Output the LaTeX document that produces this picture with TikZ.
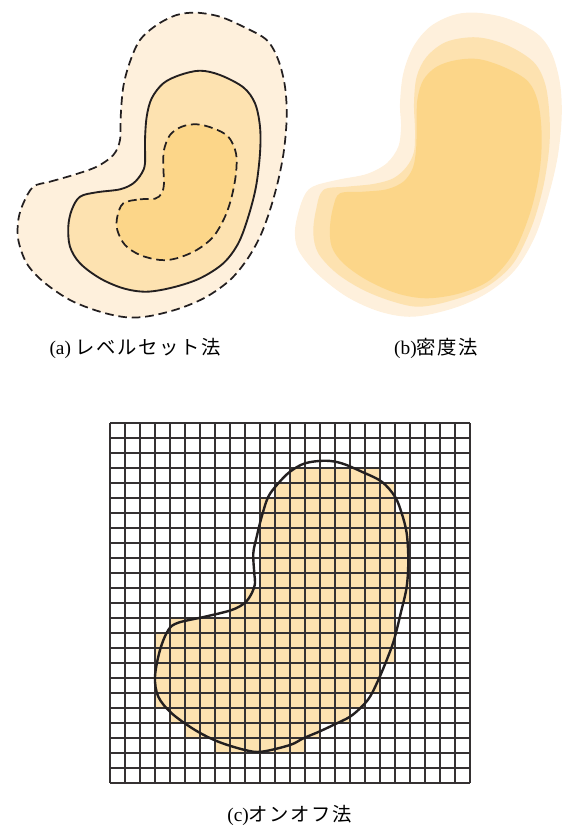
\documentclass[tikz,border=0pt]{standalone}
\usepackage{fontspec}
\setmainfont{Liberation Serif}
\newfontfamily\jp[LetterSpace=8]{Noto Sans CJK JP}
\definecolor{cOut}{HTML}{FEF0DC}
\definecolor{cMid}{HTML}{FDE2B0}
\definecolor{cIn}{HTML}{FCD689}
\definecolor{ink}{HTML}{231F20}
\tikzset{
  contourdash/.style={draw=ink,line width=1.3pt,dash pattern=on 6.5pt off 3.6pt},
  contoursolid/.style={draw=ink,line width=1.4pt},
  gridline/.style={draw=ink!92,line width=1.5pt},
  shapeline/.style={draw=ink,line width=1.8pt},
  lab/.style={inner sep=0pt,font=\fontsize{14.5}{17}\selectfont},
}
\begin{document}
\begin{tikzpicture}[x=0.75pt,y=-0.75pt]
\useasboundingbox (0,0) rectangle (564,829);

% ---------- (a) level set ----------
\path[fill=cOut,contourdash] plot[smooth cycle,tension=0.55] coordinates {
(33.3,186.7)(50,181.7)(73.3,175)(96.7,166.7)(113.3,155)(120,140)(120.7,116.7)(123.3,86.7)(130,61.7)(140,40)(156.7,25)(176.7,15)(196.7,12.7)(220,16.7)(243.3,26.7)(266.7,40)(278.3,60)(285,86.7)(286.7,116.7)(284,150)(278.3,180)(270,210)(260,236.7)(246.7,260)(230,280)(206.7,296.7)(180,308.3)(150,316)(126.7,317.3)(100,311.7)(70,300)(43.3,281.7)(26.7,263.3)(18.3,240)(18.3,220)(23.3,203.3)};
\path[fill=cMid,contoursolid] plot[smooth cycle,tension=0.55] coordinates {
(80,196.7)(96.7,192.3)(120,189.3)(133.3,183.3)(141.7,173.3)(145,163.3)(145,140)(146.7,116.7)(151.7,98.3)(163.3,83.3)(180,75)(200,70.7)(220,75)(243.3,87.3)(255,103.3)(260,126.7)(260,153.3)(256,186.7)(248.3,216.7)(238.3,243.3)(223.3,263.3)(200,278.3)(173.3,287.3)(146.7,291.7)(123.3,288.3)(100,278.3)(80,263.3)(70,246.7)(68.3,226.7)(71.7,210)};
\path[fill=cIn,contourdash] plot[smooth cycle,tension=0.55] coordinates {
(123.3,203.3)(140,199.3)(155,198.7)(161.7,193.3)(164,183.3)(163.3,166.7)(164,150)(170,135)(181.7,126.7)(196.7,124.3)(213.3,128.3)(228.3,136.7)(236,153.3)(236,173.3)(231.7,196.7)(225,216.7)(213.3,236.7)(196.7,250)(176.7,258.3)(160,260)(140,255)(125,245)(117.3,230)(117.3,216.7)};

% ---------- (b) density ----------
\fill[cOut] plot[smooth cycle,tension=0.55] coordinates {
(316.7,185)(340,179.3)(366.7,174)(386.7,163.3)(398.3,146.7)(401,126.7)(400,103.3)(403.3,73.3)(413.3,46.7)(430,26.7)(453.3,15)(476.7,12.7)(506.7,18.3)(536.7,33.3)(551.7,53.3)(560,83.3)(561.7,116.7)(557.7,156.7)(548.3,196.7)(535,236.7)(515,270)(486.7,293.3)(453.3,308.3)(413.3,316.7)(380,311.7)(346.7,296.7)(316.7,273.3)(298.3,250)(295,230)(300,206.7)(306.7,191.7)};
\fill[cMid] plot[smooth cycle,tension=0.55] coordinates {
(323.3,190)(346.7,186.7)(373.3,184)(393.3,178.3)(406.7,166.7)(414,151.7)(415,130)(414,103.3)(416.7,76.7)(426.7,56.7)(446.7,41.7)(476.7,37.3)(506.7,45)(533.3,61.7)(545,83.3)(549.3,113.3)(549.3,146.7)(543.3,186.7)(531.7,226.7)(513.3,263.3)(486.7,286.7)(453.3,300)(420,306.7)(393.3,301.7)(363.3,290)(336.7,273.3)(318.3,253.3)(313.3,233.3)(316,210)};
\fill[cIn] plot[smooth cycle,tension=0.55] coordinates {
(340,193.3)(363.3,191.7)(386.7,189.3)(403.3,181.7)(412.7,168.3)(416,150)(416.7,126.7)(417.3,100)(423.3,80)(436.7,66.7)(456.7,60)(480,59.3)(506.7,68.3)(528.3,81.7)(538.3,103.3)(541.7,136.7)(539.3,173.3)(530,213.3)(513.3,253.3)(490,280)(460,293.3)(426.7,298.3)(396.7,293.3)(366.7,280)(343.3,263.3)(331.7,246.7)(330,226.7)(333.3,206.7)};

% ---------- labels ----------
\node[lab] (la) at (135,348) {(a) {\jp レベルセット法}};
\node[lab] (lb) at (436,348) {(b){\jp 密度法}};
\node[lab] (lc) at (289.5,815) {(c){\jp オンオフ法}};

% ---------- (c) on-off ----------
\foreach \r/\a/\b in {3/12/17,4/11/18,5/10/18,6/10/19,7/10/19,8/10/19,9/10/19,10/10/19,11/9/19,12/8/18,13/4/18,14/3/18,15/3/18,16/3/17,17/3/17,18/3/16,19/4/15,20/5/13,21/7/12}
  \fill[cMid] ({110+15*\a},{423+15*\r}) rectangle ({125+15*\b},{438+15*\r});
\foreach \i in {0,...,24} {
  \draw[gridline] ({110+15*\i},423) -- ({110+15*\i},783);
  \draw[gridline] (110,{423+15*\i}) -- (470,{423+15*\i});
}
\draw[shapeline] plot[smooth cycle,tension=0.55] coordinates {
(305,463.3)(325,460.7)(341.7,463.3)(361.7,471.7)(381.7,481.7)(395,496.7)(401.7,513.3)(406.7,533.3)(408.3,560)(406.7,586.7)(401,612)(394,640)(386.7,660)(378.3,680)(370,696.7)(361.7,706.7)(350,716.7)(333.3,725)(319,731.7)(303.3,738.3)(290,745)(261.7,751.7)(245,750)(218.3,741.7)(195,730)(171.7,713.3)(158.3,696.7)(155,676.7)(160,650)(168.3,630)(178.3,622.7)(205,616.7)(231.7,610)(245,602.7)(251.7,593.3)(255,583.3)(254.3,573.3)(253.3,553.3)(256.7,536.7)(261.7,516.7)(268.3,496.7)(278.3,483.3)(290,471.7)};
\end{tikzpicture}
\end{document}
